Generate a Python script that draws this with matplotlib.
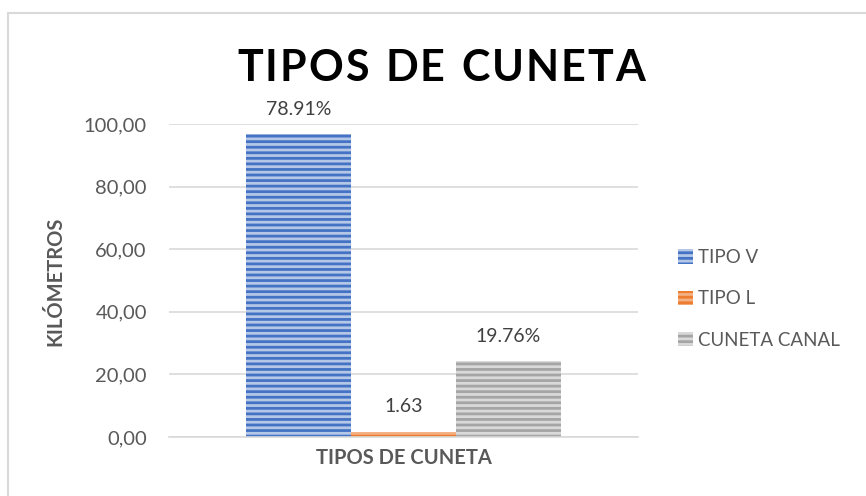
import matplotlib
matplotlib.use('Agg')
import matplotlib.pyplot as plt
from matplotlib.patches import Patch, Rectangle

# Data
category = 'TIPOS DE CUNETA'
series = ['TIPO V', 'TIPO L', 'CUNETA CANAL']
values = [96.75, 1.63, 24.25]
value_labels = ['78.91%', '1.63', '19.76%']
yticks = [0, 20, 40, 60, 80, 100]
ytick_labels = ['0,00', '20,00', '40,00', '60,00', '80,00', '100,00']

# face (light stripe) and hatch (dark stripe) colours
face_colors = ['#b4c7e7', '#f4b183', '#d9d9d9']
hatch_colors = ['#4472c4', '#ed7d31', '#a5a5a5']

plt.rcParams['font.family'] = ['Lato', 'DejaVu Sans']
plt.rcParams['hatch.linewidth'] = 2.0
text_color = '#595959'

fig = plt.figure(figsize=(8.66, 4.96), dpi=100)
ax = fig.add_axes([169/866, 59/496, 469/866, 313/496])

# outer chart border (right and bottom edges fall outside the picture)
fig.patches.append(Rectangle((8/866, -0.1), 1.2, 1.1 - 13/496, transform=fig.transFigure,
                             fill=False, edgecolor='#d9d9d9', linewidth=1.5))

offsets = [-1, 0, 1]
for off, v, fc, hc, lab in zip(offsets, values, face_colors, hatch_colors, value_labels):
	ax.bar(off, v, width=1.0, facecolor=fc, edgecolor=hc, hatch='---', linewidth=0)
	ax.annotate(lab, (off, v), xytext=(0, 18), textcoords='offset points',
	            ha='center', va='center', fontsize=14, color='#404040')

ax.set_xlim(-2.233, 2.233)
ax.set_ylim(0, 100)
ax.set_yticks(yticks)
ax.set_yticklabels(ytick_labels, fontsize=14.5, color=text_color)
ax.set_xticks([])
ax.tick_params(axis='y', length=0, pad=16)
ax.grid(axis='y', color='#d9d9d9', linewidth=1.2)
ax.set_axisbelow(True)
for s in ['top', 'right', 'left']:
	ax.spines[s].set_visible(False)
ax.spines['bottom'].set_color('#d9d9d9')
ax.spines['bottom'].set_linewidth(1.2)

ax.set_xlabel(category, fontsize=14.5, fontweight='bold', color=text_color, labelpad=8)
fig.text(55/866, 1 - 281/496, 'KILÓMETROS', rotation=90, ha='center', va='center',
         fontsize=14.5, fontweight='bold', color=text_color)

# title with letter spacing, drawn char by char to a target width
title = 'TIPOS DE CUNETA'
title_size = 31
renderer = fig.canvas.get_renderer()
widths = []
for ch in title:
	t = fig.text(0, 0, ch if ch != ' ' else 'I', fontsize=title_size, fontweight='bold')
	widths.append(t.get_window_extent(renderer).width)
	t.remove()
spacing = (408 - sum(widths)) / (len(title) - 1)
x = 441 - 204
for ch, w in zip(title, widths):
	if ch != ' ':
		fig.text(x / 866, 1 - 81/496, ch, fontsize=title_size, fontweight='bold',
		         color='black', ha='left', va='baseline')
	x += w + spacing

handles = [Patch(facecolor=fc, edgecolor=hc, hatch='---', linewidth=0)
           for fc, hc in zip(face_colors, hatch_colors)]
leg = fig.legend(handles, series, loc='upper left', bbox_to_anchor=(661/866, 1 - 232/496),
                 frameon=False, fontsize=13.5, labelspacing=1.3, handlelength=0.8,
                 handleheight=0.8, handletextpad=0.3)
for t in leg.get_texts():
	t.set_color(text_color)

fig.savefig('out.png', dpi=100)
